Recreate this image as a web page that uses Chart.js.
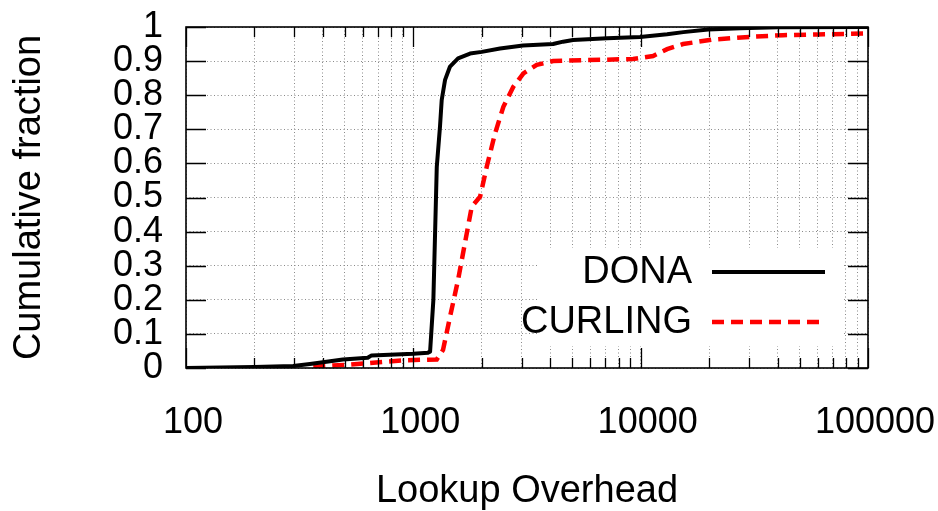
<!DOCTYPE html>
<html>
<head>
<meta charset="utf-8">
<script src="https://cdn.jsdelivr.net/npm/chart.js@4/dist/chart.umd.min.js"></script>
<style>
  html, body { margin: 0; padding: 0; background: #fff; overflow: hidden; }
  #wrap { position: absolute; left: 0; top: 0; width: 1000px; height: 511px; }
</style>
</head>
<body>
<div id="wrap"><canvas id="cdf" width="1000" height="511"></canvas></div>
<script>
// datos
const donaX = [100, 200, 296, 351, 490, 630, 655, 1000, 1160, 1185, 1225, 1268, 1310, 1333, 1379, 1450, 1573, 1776, 2000, 2406, 3038, 4118, 4557, 5041, 7116, 9940, 13070, 15400, 19800, 27370, 40000, 100000];
const donaY = [0, 0.003, 0.006, 0.012, 0.025, 0.03, 0.037, 0.042, 0.045, 0.048, 0.2, 0.59, 0.708, 0.786, 0.845, 0.884, 0.908, 0.922, 0.927, 0.937, 0.946, 0.95, 0.957, 0.962, 0.967, 0.971, 0.979, 0.985, 0.993, 0.996, 0.999, 1.0];

const curlingX = [363, 527, 736, 935, 1268, 1351, 1450, 1573, 1718, 1807, 1966, 2103, 2288, 2489, 2754, 3050, 3490, 4118, 5793, 9260, 11340, 13070, 15370, 20660, 30290, 42300, 59700, 100000];
const curlingY = [0.004, 0.01, 0.018, 0.023, 0.025, 0.053, 0.15, 0.258, 0.395, 0.473, 0.502, 0.59, 0.688, 0.766, 0.825, 0.864, 0.889, 0.9, 0.903, 0.906, 0.915, 0.935, 0.95, 0.963, 0.971, 0.976, 0.978, 0.981];

const seriesNames = ["DONA", "CURLING"];
const xMajorTicks = [100, 1000, 10000, 100000];
const xMinorSteps = [2, 3, 4, 5, 6, 7, 8, 9];
const yTicks = [0, 0.1, 0.2, 0.3, 0.4, 0.5, 0.6, 0.7, 0.8, 0.9, 1];

const FONT = "'Liberation Sans', Arial, Helvetica, sans-serif";

const xTickValues = [];
xMajorTicks.forEach((m, i) => {
  xTickValues.push(m);
  if (i < xMajorTicks.length - 1) xMinorSteps.forEach((s) => xTickValues.push(m * s));
});

const pts = (xs, ys) => xs.map((x, i) => ({ x, y: ys[i] }));

// bordes, marcas y leyenda al estilo gnuplot
const gnuplotFrame = {
  id: "gnuplotFrame",
  afterDatasetsDraw(chart) {
    const { ctx, chartArea: a, scales } = chart;
    ctx.save();

    // leyenda (caja blanca encima de la rejilla)
    ctx.fillStyle = "#fff";
    ctx.fillRect(537, 248, 305, 98);
    ctx.font = "38px " + FONT;
    ctx.fillStyle = "#000";
    ctx.textAlign = "right";
    ctx.textBaseline = "middle";
    const rows = [272, 322];
    chart.data.datasets.forEach((ds, i) => {
      ctx.fillText(ds.label, 692, rows[i] + 1);
      ctx.beginPath();
      ctx.lineWidth = ds.borderWidth;
      ctx.strokeStyle = ds.borderColor;
      ctx.setLineDash(ds.borderDash || []);
      ctx.moveTo(712, rows[i]);
      ctx.lineTo(i === 0 ? 825 : 820, rows[i]);
      ctx.stroke();
    });
    ctx.setLineDash([]);

    // marcas hacia adentro
    ctx.strokeStyle = "#000";
    ctx.lineWidth = 1.3;
    ctx.beginPath();
    scales.x.ticks.forEach((t) => {
      const px = Math.round(scales.x.getPixelForValue(t.value)) + 0.5;
      const len = xMajorTicks.includes(t.value) ? 20 : 10;
      ctx.moveTo(px, a.bottom);
      ctx.lineTo(px, a.bottom - len);
      ctx.moveTo(px, a.top);
      ctx.lineTo(px, a.top + len);
    });
    scales.y.ticks.forEach((t) => {
      const py = Math.round(scales.y.getPixelForValue(t.value)) + 0.5;
      ctx.moveTo(a.left, py);
      ctx.lineTo(a.left + 20, py);
      ctx.moveTo(a.right, py);
      ctx.lineTo(a.right - 20, py);
    });
    ctx.stroke();

    ctx.lineWidth = 1.6;
    ctx.strokeRect(a.left, a.top, a.right - a.left, a.bottom - a.top);
    ctx.restore();
  },
};

new Chart(document.getElementById("cdf").getContext("2d"), {
  type: "scatter",
  data: {
    datasets: [
      {
        label: seriesNames[0],
        data: pts(donaX, donaY),
        showLine: true,
        borderColor: "#000000",
        borderWidth: 4,
        borderJoinStyle: "round",
        pointRadius: 0,
        tension: 0,
      },
      {
        label: seriesNames[1],
        data: pts(curlingX, curlingY),
        showLine: true,
        borderColor: "#ff0000",
        borderWidth: 4.5,
        borderDash: [12, 7],
        pointRadius: 0,
        tension: 0,
      },
    ],
  },
  options: {
    responsive: false,
    animation: false,
    devicePixelRatio: 1,
    layout: { padding: { left: 0, right: 132, top: 27, bottom: 0 } },
    plugins: { legend: { display: false }, tooltip: { enabled: false } },
    scales: {
      x: {
        type: "logarithmic",
        min: 100,
        max: 100000,
        afterBuildTicks: (s) => {
          s.ticks = xTickValues.map((v) => ({ value: v }));
        },
        afterFit: (s) => {
          s.height = 143;
          s.paddingLeft = 0;
          s.paddingRight = 0;
        },
        ticks: {
          autoSkip: false,
          maxRotation: 0,
          padding: 33,
          labelOffset: 7,
          color: "#000",
          font: { family: FONT, size: 36 },
          callback: (v) => (xMajorTicks.includes(v) ? String(v) : ""),
        },
        grid: { color: "#8a8a8a", lineWidth: 1, drawTicks: false },
        border: { display: false, dash: [1, 2.5] },
        title: {
          display: true,
          text: "Lookup Overhead",
          color: "#000",
          font: { family: FONT, size: 38, lineHeight: 1 },
          padding: { top: 0, bottom: 0 },
        },
      },
      y: {
        min: 0,
        max: 1,
        afterBuildTicks: (s) => {
          s.ticks = yTicks.map((v) => ({ value: v }));
        },
        afterFit: (s) => {
          s.width = 186;
          s.paddingTop = 0;
          s.paddingBottom = 0;
        },
        ticks: {
          autoSkip: false,
          padding: 23,
          color: "#000",
          font: { family: FONT, size: 36 },
          callback: (v) => String(+(+v).toFixed(1)),
        },
        grid: { color: "#8a8a8a", lineWidth: 1, drawTicks: false },
        border: { display: false, dash: [1, 2.5] },
        title: {
          display: true,
          text: "Cumulative fraction",
          color: "#000",
          font: { family: FONT, size: 38 },
          padding: { top: 7, bottom: 0 },
        },
      },
    },
  },
  plugins: [gnuplotFrame],
});
</script>
</body>
</html>
